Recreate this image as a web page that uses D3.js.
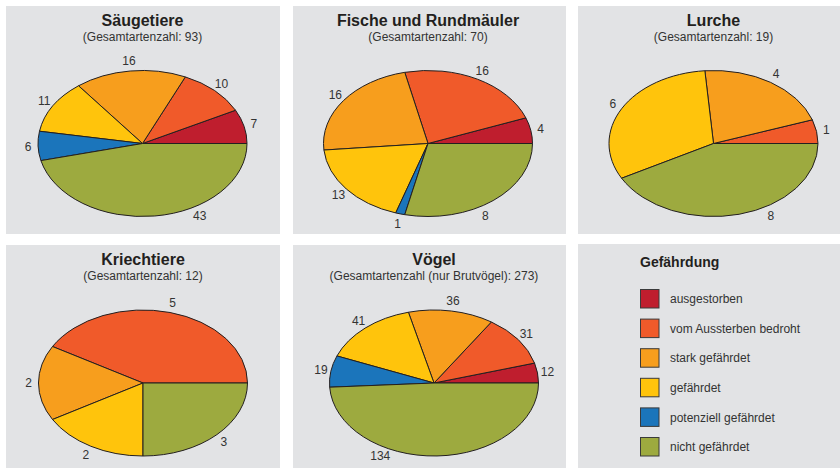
<!DOCTYPE html>
<html>
<head>
<meta charset="utf-8">
<script src="https://cdn.jsdelivr.net/npm/d3@7"></script>
<style>
  html, body { margin: 0; padding: 0; background: #fff; }
  svg { display: block; }
</style>
</head>
<body>
<div id="chart"></div>
<script>
// ── Data ────────────────────────────────────────
const CATEGORIES = ["ausgestorben", "vom Aussterben bedroht", "stark gefährdet",
                    "gefährdet", "potenziell gefährdet", "nicht gefährdet"];
const GROUPS     = ["Säugetiere", "Fische und Rundmäuler", "Lurche", "Kriechtiere", "Vögel"];
const SUBTITLES  = ["(Gesamtartenzahl: 93)", "(Gesamtartenzahl: 70)", "(Gesamtartenzahl: 19)",
                    "(Gesamtartenzahl: 12)", "(Gesamtartenzahl (nur Brutvögel): 273)"];
const TOTALS      = [93, 70, 19, 12, 273];
const SAEUGETIERE = [7, 10, 16, 11, 6, 43];
const FISCHE      = [4, 16, 16, 13, 1, 8];
const LURCHE      = [0, 1, 4, 6, 0, 8];
const KRIECHTIERE = [0, 5, 2, 2, 0, 3];
const VOEGEL      = [12, 31, 36, 41, 19, 134];
const SERIES = [SAEUGETIERE, FISCHE, LURCHE, KRIECHTIERE, VOEGEL];

// ── Styles / layout ─────────────────────────────
const COLORS  = ["#BF1E2E", "#F05A2A", "#F79E1D", "#FFC40C", "#1B75BB", "#9DAA3F"];
const PANEL_BG = "#E2E3E5";
const FONT = "'Liberation Sans', Arial, Helvetica, sans-serif";
const W = 840, H = 468;
const RX = 104.5, RY = 73;

const PANELS = [
  { x: 6,   y: 6,   w: 274, h: 228, cx: 142.5, cy: 143.5 },
  { x: 293, y: 6,   w: 273, h: 228, cx: 428,   cy: 143.5 },
  { x: 578, y: 6,   w: 262, h: 228, cx: 713.5, cy: 143.5 },
  { x: 6,   y: 245, w: 274, h: 223, cx: 143,   cy: 383 },
  { x: 293, y: 245, w: 273, h: 223, cx: 434,   cy: 383 }
];
const LEGEND_PANEL = { x: 578, y: 244, w: 262, h: 224 };
// angle (deg, ccw from east) of the "nicht gefährdet" label, null = slice middle
const LAST_LABEL_DEG = [300, 300, 300, null, 242];

const svg = d3.select("#chart").append("svg")
  .attr("width", W).attr("height", H)
  .style("font-family", FONT);

svg.append("rect").attr("width", W).attr("height", H).attr("fill", "#fff");

const pie = d3.pie().sort(null).value(d => d.v)
  .startAngle(Math.PI / 2).endAngle(Math.PI / 2 - 2 * Math.PI);
const arc = d3.arc().innerRadius(0).outerRadius(RX);

GROUPS.forEach((name, i) => {
  const p = PANELS[i];
  const vals = SERIES[i];
  const shown = vals.slice(0, 5);
  const rest = TOTALS[i] - d3.sum(shown);   // green slice fills up to the total
  const sliceData = shown.map((v, k) => ({ v, k, label: v }))
    .concat([{ v: rest, k: 5, label: vals[5] }]);

  svg.append("rect").attr("x", p.x).attr("y", p.y)
    .attr("width", p.w).attr("height", p.h).attr("fill", PANEL_BG);

  svg.append("text").attr("x", p.cx).attr("y", p.y + 20)
    .attr("text-anchor", "middle").attr("font-size", "16px")
    .attr("font-weight", "bold").attr("fill", "#231F20").text(name);
  svg.append("text").attr("x", p.cx).attr("y", p.y + 35)
    .attr("text-anchor", "middle").attr("font-size", "12px")
    .attr("fill", "#333").text(SUBTITLES[i]);

  const arcs = pie(sliceData).filter(d => d.data.v > 0);

  const g = svg.append("g")
    .attr("transform", `translate(${p.cx},${p.cy}) scale(1,${RY / RX})`);
  g.selectAll("path").data(arcs).join("path")
    .attr("d", arc)
    .attr("fill", d => COLORS[d.data.k])
    .attr("stroke", "#231F20").attr("stroke-width", 1)
    .attr("stroke-linejoin", "round")
    .attr("vector-effect", "non-scaling-stroke");

  svg.append("g").selectAll("text").data(arcs).join("text")
    .attr("x", d => p.cx + (RX + 10) * Math.sin(labelAngle(d, i)))
    .attr("y", d => p.cy - (RY + 10) * Math.cos(labelAngle(d, i)))
    .attr("dy", "0.35em").attr("text-anchor", "middle")
    .attr("font-size", "12px").attr("fill", "#333")
    .text(d => d.data.label);
});

function labelAngle(d, i) {
  if (d.data.k === 5 && LAST_LABEL_DEG[i] != null) {
    return (90 - LAST_LABEL_DEG[i]) * Math.PI / 180;
  }
  return (d.startAngle + d.endAngle) / 2;
}

// ── Legend ──────────────────────────────────────
const lp = LEGEND_PANEL;
svg.append("rect").attr("x", lp.x).attr("y", lp.y)
  .attr("width", lp.w).attr("height", lp.h).attr("fill", PANEL_BG);
svg.append("text").attr("x", 640).attr("y", 267)
  .attr("font-size", "14px").attr("font-weight", "bold")
  .attr("fill", "#231F20").text("Gefährdung");

const legendY = d3.scalePoint().domain(CATEGORIES).range([289, 437]);
const items = svg.append("g").selectAll("g").data(CATEGORIES).join("g")
  .attr("transform", d => `translate(640,${legendY(d)})`);
items.append("rect").attr("x", 0.5).attr("y", 0.5)
  .attr("width", 18.5).attr("height", 18.5)
  .attr("fill", (d, k) => COLORS[k])
  .attr("stroke", "#3a3a3a").attr("stroke-width", 1);
items.append("text").attr("x", 30).attr("y", 10).attr("dy", "0.35em")
  .attr("font-size", "12px").attr("fill", "#333").text(d => d);
</script>
</body>
</html>
